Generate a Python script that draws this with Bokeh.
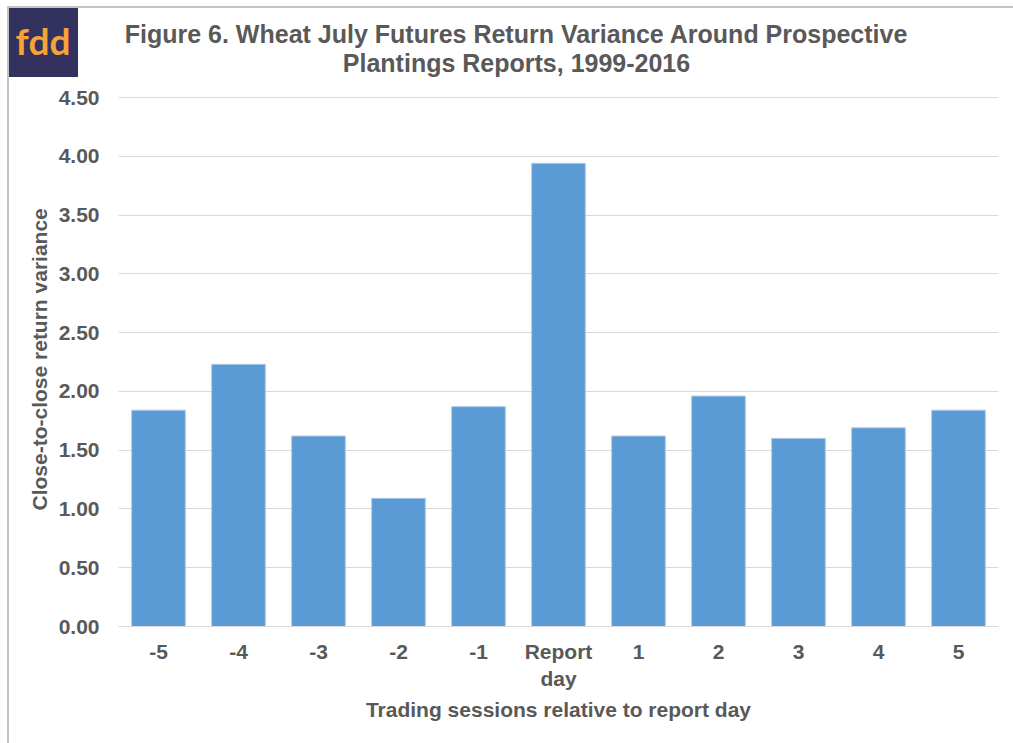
from bokeh.plotting import figure
from bokeh.layouts import column
from bokeh.models import Label, FactorRange, NumeralTickFormatter, FixedTicker, ColumnDataSource, Title, Div
from bokeh.embed import file_html
from bokeh.resources import INLINE

categories = ["-5", "-4", "-3", "-2", "-1", "Report\nday", "1", "2", "3", "4", "5"]
variance = [1.84, 2.23, 1.62, 1.09, 1.87, 3.94, 1.62, 1.96, 1.60, 1.69, 1.84]
y_ticks = [0.0, 0.5, 1.0, 1.5, 2.0, 2.5, 3.0, 3.5, 4.0, 4.5]
title_lines = ["Figure 6. Wheat July Futures Return Variance Around Prospective",
               "Plantings Reports, 1999-2016"]
x_label = "Trading sessions relative to report day"
y_label = "Close-to-close return variance"
logo_text = "fdd"

W, H = 1010, 740
LEFT, RIGHT, BOTTOM = 118, 12, 114
PLOT_TOP_PX = 97          # where 4.50 sits, from the top of the canvas
FONT = "Liberation Sans"
GRAY = "#595959"

fh = H - BOTTOM
ymax = 4.5 * fh / (fh - PLOT_TOP_PX)

p = figure(width=W, height=H, x_range=FactorRange(*categories, range_padding=0),
           y_range=(0, ymax), output_backend="svg", toolbar_location=None,
           min_border_left=LEFT, min_border_right=RIGHT, min_border_top=0,
           min_border_bottom=BOTTOM, title=None)
p.outline_line_color = None
p.background_fill_color = "white"
p.border_fill_color = "white"

src = ColumnDataSource(dict(x=categories, top=variance))
p.vbar(x="x", top="top", width=0.67, source=src, fill_color="#5b9bd5",
       line_color="#a9c8ea", line_width=1)

p.xgrid.grid_line_color = None
p.ygrid.grid_line_color = "#d9d9d9"
p.ygrid.grid_line_width = 1
p.yaxis.ticker = FixedTicker(ticks=y_ticks)
p.ygrid.ticker = FixedTicker(ticks=y_ticks)
p.yaxis.formatter = NumeralTickFormatter(format="0.00")

for ax in (p.xaxis, p.yaxis):
    ax.major_tick_line_color = None
    ax.minor_tick_line_color = None
    ax.major_label_text_font = FONT
    ax.major_label_text_font_style = "bold"
    ax.major_label_text_font_size = "21px"
    ax.major_label_text_color = GRAY
    ax.axis_label_text_font = FONT
    ax.axis_label_text_font_style = "bold"
    ax.axis_label_text_font_size = "21px"
    ax.axis_label_text_color = GRAY
p.yaxis.axis_line_color = None
p.xaxis.axis_line_color = "#d9d9d9"
p.xaxis.major_label_standoff = 7
p.yaxis.major_label_standoff = 13
p.xaxis.axis_label = x_label
p.xaxis.axis_label_standoff = 5

# y axis title, placed along the 0..4.5 part of the frame
p.add_layout(Title(text=y_label, align="left", offset=116, standoff=9,
                   text_font=FONT, text_font_style="bold", text_font_size="21px",
                   text_color=GRAY), "left")

# chart title, inside the (extended) frame
fw = W - LEFT - RIGHT
def dx(px):
    return (px - LEFT) / fw * len(categories)
def dy(py):
    return (fh - py) / fh * ymax

for t, py in zip(title_lines, [33, 62]):
    p.add_layout(Label(x=dx(516), y=dy(py), text=t, text_align="center",
                       text_baseline="middle", text_font=FONT, text_font_style="bold",
                       text_font_size="25px", text_color=GRAY))

# logo, laid over the top-left corner
logo = Div(width=70, height=71, margin=0,
           text=('<div style="width:70px;height:71px;background:#33315e;color:#f7a33a;'
                 'font-family:Lato;font-weight:bold;font-size:37px;display:flex;'
                 'align-items:center;justify-content:center;line-height:1.2;">'
                 + logo_text + '</div>'),
           styles={"position": "absolute", "left": "8px", "top": "6px"})

frame_div = Div(width=1006, height=737, text="", margin=0,
                styles={"position": "absolute", "left": "7px", "top": "6px",
                        "border-top": "2px solid #c4c4c4",
                        "border-left": "2px solid #c4c4c4",
                        "pointer-events": "none"})

layout = column(p, logo, frame_div)
open("out.html", "w").write(file_html(layout, INLINE))
